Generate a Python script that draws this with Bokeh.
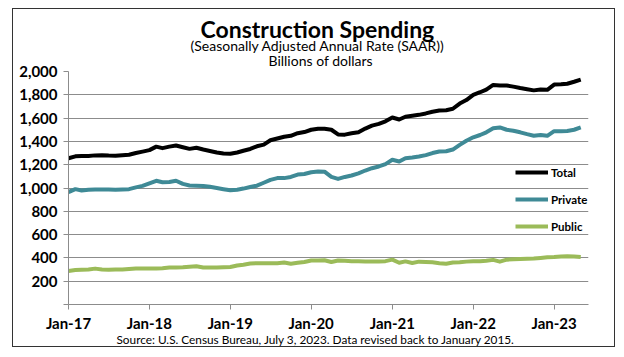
import pandas as pd
from datetime import datetime
from bokeh.plotting import figure
from bokeh.models import (Range1d, FixedTicker, NumeralTickFormatter, DatetimeTickFormatter,
                          Title, Legend, LegendItem, InlineStyleSheet)
from bokeh.embed import file_html
from bokeh.resources import INLINE

# ---- data (billions of dollars, SAAR), Jan 2017 .. May 2023 ----
months = pd.date_range("2017-01-01", periods=77, freq="MS")

total = [1255, 1272, 1275, 1275, 1280, 1282, 1278, 1276, 1282, 1285, 1300, 1312,
         1325, 1355, 1342, 1355, 1365, 1350, 1336, 1345, 1330, 1318, 1305, 1296,
         1294, 1305, 1320, 1335, 1358, 1372, 1410, 1425, 1440, 1448, 1470, 1480,
         1500, 1508, 1508, 1500, 1460, 1458, 1470, 1478, 1510, 1535, 1550, 1572,
         1605, 1588, 1612, 1620, 1628, 1640, 1655, 1665, 1668, 1680, 1725, 1755,
         1800, 1822, 1845, 1885, 1880, 1880, 1870, 1858, 1848, 1838, 1845, 1843,
         1888, 1890, 1895, 1912, 1930]

private = [965, 990, 978, 985, 987, 988, 987, 986, 988, 990, 1005, 1018,
           1040, 1062, 1050, 1052, 1062, 1035, 1022, 1020, 1018, 1010, 1000, 990,
           980, 985, 995, 1008, 1020, 1045, 1070, 1085, 1085, 1095, 1115, 1120,
           1135, 1142, 1140, 1095, 1078, 1095, 1107, 1125, 1150, 1170, 1185, 1205,
           1242, 1228, 1256, 1262, 1270, 1282, 1300, 1313, 1315, 1330, 1370, 1405,
           1435, 1455, 1478, 1512, 1520, 1500, 1492, 1478, 1462, 1448, 1455, 1448,
           1488, 1488, 1490, 1500, 1520]

public = [288, 296, 298, 300, 308, 300, 298, 300, 300, 305, 308, 308,
          308, 308, 312, 318, 318, 320, 325, 328, 318, 318, 318, 320,
          322, 335, 342, 352, 355, 355, 355, 355, 360, 350, 358, 365,
          378, 378, 380, 365, 378, 375, 372, 372, 370, 370, 370, 372,
          385, 358, 370, 356, 368, 365, 362, 355, 350, 360, 362, 368,
          372, 372, 375, 383, 368, 385, 388, 390, 392, 395, 400, 405,
          408, 413, 414, 413, 408]

series_names = ["Total", "Private", "Public"]
series_colors = ["#000000", "#3F8A96", "#9BBB59"]
y_ticks = [0, 200, 400, 600, 800, 1000, 1200, 1400, 1600, 1800, 2000]
x_tick_years = [2017, 2018, 2019, 2020, 2021, 2022, 2023]

title_text = "Construction  Spending"
subtitle_1 = "(Seasonally Adjusted Annual Rate (SAAR))"
subtitle_2 = "Billions of dollars"
source_text = "Source: U.S. Census Bureau, July 3, 2023.  Data revised back to January 2015."

FONT = "Lato"

p = figure(width=624, height=357, output_backend="svg", toolbar_location=None,
           x_axis_type="datetime",
           x_range=Range1d(datetime(2017, 1, 1), datetime(2023, 6, 5)),
           y_range=Range1d(0, 2000),
           min_border_left=68, min_border_right=36, min_border_top=71, min_border_bottom=53)
p.outline_line_color = None
p.background_fill_color = "white"
p.border_fill_color = "white"

# axes
p.xaxis.ticker = FixedTicker(ticks=[datetime(y, 1, 1).timestamp() * 1000 for y in x_tick_years])
p.xaxis.formatter = DatetimeTickFormatter(years="%b-%y", months="%b-%y", days="%b-%y")
p.yaxis.ticker = FixedTicker(ticks=y_ticks)
p.yaxis.formatter = NumeralTickFormatter(format="0,0")
p.yaxis.major_label_overrides = {0: ""}
for ax in (p.xaxis, p.yaxis):
    ax.axis_line_color = "#8C8C8C"
    ax.axis_line_width = 1
    ax.major_tick_line_color = "#8C8C8C"
    ax.major_tick_out = 5
    ax.major_tick_in = 0
    ax.minor_tick_line_color = None
    ax.major_label_text_font = FONT
    ax.major_label_text_font_style = "bold"
    ax.major_label_text_font_size = "15px"
    ax.major_label_text_color = "#000000"
p.yaxis.major_label_standoff = 6
p.xaxis.major_label_standoff = 4
p.xgrid.grid_line_color = None
p.ygrid.grid_line_color = "#8C8C8C"
p.ygrid.grid_line_width = 1
p.ygrid.ticker = FixedTicker(ticks=y_ticks[1:])

renderers = []
for name, vals, col in zip(series_names, [total, private, public], series_colors):
    r = p.line(months, vals, line_color=col, line_width=4, line_join="round")
    renderers.append(r)

legend = Legend(items=[LegendItem(label=n, renderers=[r]) for n, r in zip(series_names, renderers)],
                location=(447, 68), orientation="vertical",
                glyph_width=33, glyph_height=20, label_standoff=3, spacing=7,
                padding=0, margin=0, border_line_color=None, background_fill_alpha=0,
                label_text_font=FONT, label_text_font_style="bold",
                label_text_font_size="11.5px", label_text_color="#000000")
p.add_layout(legend)

# titles: p.title is outermost; later "above" titles stack outward from the frame
def style_title(t, txt, size, bold, offset, standoff):
    t.text = txt
    t.align = "left"
    t.offset = offset
    t.standoff = standoff
    t.text_font = FONT
    t.text_font_size = size
    t.text_font_style = "bold" if bold else "normal"
    t.text_color = "#000000"
    return t

style_title(p.title, title_text, "23px", True, 132, -2)
p.add_layout(style_title(Title(), subtitle_2, "14px", False, 200, 6), "above")
p.add_layout(style_title(Title(), subtitle_1, "14px", False, 122, -14), "above")
src = style_title(Title(), source_text, "11.8px", False, 48, -6)
src.vertical_align = "top"
p.add_layout(src, "below")

p.stylesheets = [InlineStyleSheet(css=""":host { position: relative; }
:host::after { content: ""; position: absolute; left: 12px; top: 8px; right: 9px; bottom: 10px;
  border: 1px solid #333333; pointer-events: none; }""")]

open("out.html", "w").write(file_html(p, INLINE))
